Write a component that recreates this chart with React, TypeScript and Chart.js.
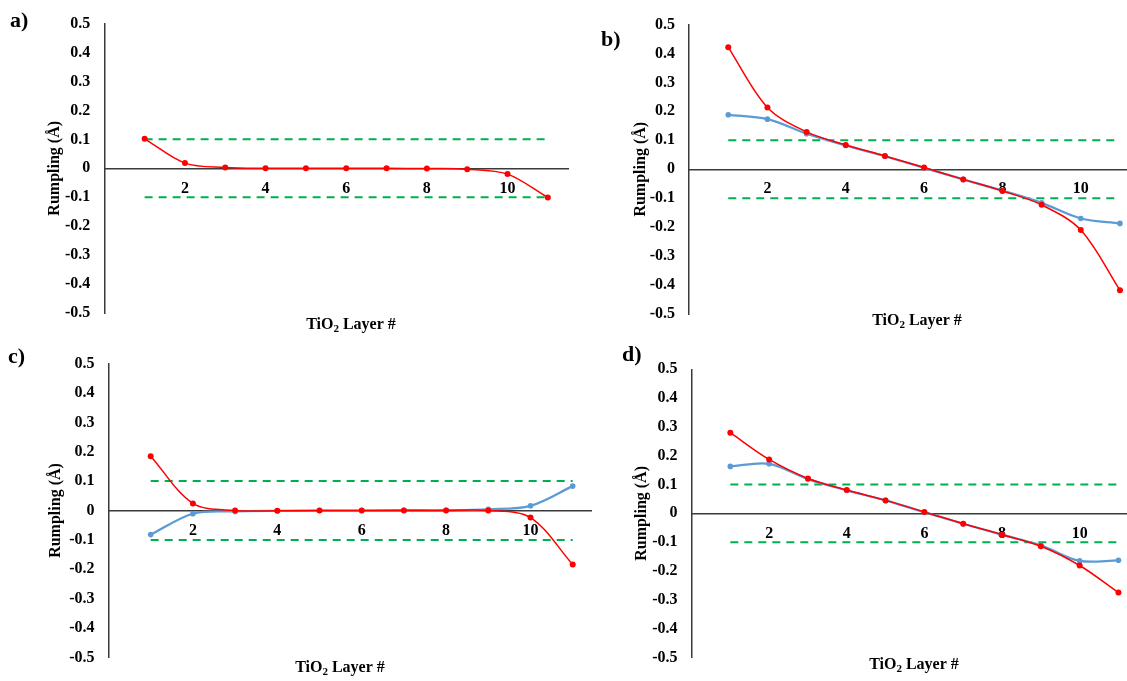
import React, { useEffect, useRef } from 'react';
import { Chart, registerables } from 'chart.js';

Chart.register(...registerables);

// TiO2 layer index along the slab
const LAYERS = [1, 2, 3, 4, 5, 6, 7, 8, 9, 10, 11];
const X_TICKS = [2, 4, 6, 8, 10];
const Y_TICKS = [-0.5, -0.4, -0.3, -0.2, -0.1, 0, 0.1, 0.2, 0.3, 0.4, 0.5];
// ±0.1 Å reference band
const LIMITS = [0.1, -0.1];

// Rumpling (Å) per layer
const A_RED = [0.102, 0.018, 0.003, 0.0, 0.0, 0.0, 0.0, -0.001, -0.003, -0.02, -0.101];

const B_RED = [0.421, 0.213, 0.129, 0.084, 0.046, 0.006, -0.035, -0.075, -0.123, -0.21, -0.418];
const B_BLUE = [0.188, 0.173, 0.123, 0.082, 0.045, 0.005, -0.035, -0.074, -0.116, -0.17, -0.187];

const C_RED = [0.185, 0.024, 0.0, -0.001, 0.0, 0.0, 0.0, 0.0, 0.0, -0.024, -0.184];
const C_BLUE = [-0.082, -0.011, -0.003, -0.001, 0.0, 0.0, 0.001, 0.001, 0.004, 0.016, 0.083];

const D_RED = [0.28, 0.187, 0.121, 0.081, 0.045, 0.005, -0.036, -0.074, -0.114, -0.181, -0.275];
const D_BLUE = [0.163, 0.172, 0.119, 0.08, 0.045, 0.004, -0.036, -0.074, -0.111, -0.165, -0.163];

const Y_TITLE = 'Rumpling (Å)';
const X_TITLE_PARTS = ['TiO', '2', ' Layer #'];

const FONT = '"Liberation Serif", "Times New Roman", serif';
const RED = '#ff0000';
const BLUE = '#5b9bd5';
const GREEN = '#00b050';
const AXIS = '#3a3a3a';

type PanelCfg = {
  label: string;
  red: number[];
  blue: number[] | null;
  box: { left: number; top: number; width: number; height: number };
  area: { left: number; right: number; top: number; bottom: number };
  xMax: number;
  axisLeft: number;
  labelPos: [number, number];
  titlePos: [number, number];
};

const PANELS: PanelCfg[] = [
  {
    label: 'a)', red: A_RED, blue: null,
    box: { left: 0, top: 0, width: 580, height: 340 },
    area: { left: 104.3, right: 568, top: 14, bottom: 313 },
    xMax: 11.5, axisLeft: 41.5, labelPos: [10, 21], titlePos: [351, 325],
  },
  {
    label: 'b)', red: B_RED, blue: B_BLUE,
    box: { left: 580, top: 0, width: 547, height: 340 },
    area: { left: 109.1, right: 547, top: 24.5, bottom: 314 },
    xMax: 11.18, axisLeft: 47.2, labelPos: [21, 40], titlePos: [337, 321],
  },
  {
    label: 'c)', red: C_RED, blue: C_BLUE,
    box: { left: 0, top: 340, width: 600, height: 341 },
    area: { left: 108.5, right: 591.7, top: 12.7, bottom: 325 },
    xMax: 11.45, axisLeft: 42.5, labelPos: [8, 17], titlePos: [340, 328],
  },
  {
    label: 'd)', red: D_RED, blue: D_BLUE,
    box: { left: 580, top: 340, width: 547, height: 341 },
    area: { left: 111.5, right: 547, top: 29.3, bottom: 318.3 },
    xMax: 11.22, axisLeft: 48.2, labelPos: [42, 15], titlePos: [334, 325],
  },
];

const toPoints = (ys: number[]) => LAYERS.map((x, i) => ({ x, y: ys[i] }));
const bandLine = (v: number) => [
  { x: LAYERS[0], y: v },
  { x: LAYERS[LAYERS.length - 1], y: v },
];

function makeTextPlugin(cfg: PanelCfg) {
  return {
    id: 'panelText',
    afterDraw(chart: Chart) {
      const ctx = chart.ctx;
      ctx.save();
      ctx.fillStyle = '#000';
      ctx.textBaseline = 'middle';
      ctx.textAlign = 'left';

      // panel letter
      ctx.font = `bold 22px ${FONT}`;
      ctx.fillText(cfg.label, cfg.labelPos[0], cfg.labelPos[1]);

      // x-axis title with subscript
      const big = `bold 16px ${FONT}`;
      const small = `bold 11px ${FONT}`;
      ctx.font = big;
      const w0 = ctx.measureText(X_TITLE_PARTS[0]).width;
      const w2 = ctx.measureText(X_TITLE_PARTS[2]).width;
      ctx.font = small;
      const w1 = ctx.measureText(X_TITLE_PARTS[1]).width;
      const total = w0 + w1 + w2;
      let x = cfg.titlePos[0] - total / 2;
      const y = cfg.titlePos[1];
      ctx.font = big;
      ctx.fillText(X_TITLE_PARTS[0], x, y);
      x += w0;
      ctx.font = small;
      ctx.fillText(X_TITLE_PARTS[1], x, y + 4);
      x += w1;
      ctx.font = big;
      ctx.fillText(X_TITLE_PARTS[2], x, y);
      ctx.restore();
    },
  };
}

function Panel({ cfg }: { cfg: PanelCfg }) {
  const ref = useRef<HTMLCanvasElement>(null);

  useEffect(() => {
    const canvas = ref.current;
    if (!canvas) return;

    const datasets: any[] = [
      {
        label: 'red',
        data: toPoints(cfg.red),
        borderColor: RED,
        backgroundColor: RED,
        borderWidth: 1.5,
        pointRadius: 3,
        pointBorderWidth: 0,
        pointBackgroundColor: RED,
        tension: 0.33,
      },
    ];
    if (cfg.blue) {
      datasets.push({
        label: 'blue',
        data: toPoints(cfg.blue),
        borderColor: BLUE,
        backgroundColor: BLUE,
        borderWidth: 2.25,
        pointRadius: 2.8,
        pointBorderWidth: 0,
        pointBackgroundColor: BLUE,
        tension: 0.33,
      });
    }
    LIMITS.forEach((v) => {
      datasets.push({
        label: `limit ${v}`,
        data: bandLine(v),
        borderColor: GREEN,
        borderWidth: 2,
        borderDash: [8, 6],
        pointRadius: 0,
        tension: 0,
      });
    });

    const tickFont = { family: FONT, size: 16, weight: 'bold' as const };

    const chart = new Chart(canvas, {
      type: 'line',
      data: { datasets },
      options: {
        animation: false,
        responsive: false,
        devicePixelRatio: 1,
        events: [],
        layout: {
          autoPadding: false,
          padding: {
            left: cfg.axisLeft,
            top: cfg.area.top,
            right: cfg.box.width - cfg.area.right,
            bottom: cfg.box.height - cfg.area.bottom,
          },
        },
        plugins: {
          legend: { display: false },
          tooltip: { enabled: false },
        },
        scales: {
          x: {
            type: 'linear',
            min: 0,
            max: cfg.xMax,
            position: { y: 0 } as any,
            afterBuildTicks: (s: any) => {
              s.ticks = X_TICKS.map((value) => ({ value }));
            },
            grid: { display: false, drawTicks: false },
            border: { display: true, color: AXIS, width: 1.5 },
            ticks: {
              padding: 10.5,
              color: '#000',
              font: tickFont,
              autoSkip: false,
              maxRotation: 0,
              callback: (v: any) => String(v),
            },
          },
          y: {
            type: 'linear',
            position: 'left',
            min: -0.5,
            max: 0.5,
            afterBuildTicks: (s: any) => {
              s.ticks = Y_TICKS.map((value) => ({ value }));
            },
            afterFit: (s: any) => {
              s.width = cfg.area.left - cfg.axisLeft;
            },
            grid: { display: false, drawTicks: false },
            border: { display: true, color: AXIS, width: 1.5 },
            ticks: {
              padding: 14,
              color: '#000',
              font: tickFont,
              autoSkip: false,
              callback: (v: any) => (Number(v) === 0 ? '0' : Number(v).toFixed(1)),
            },
            title: {
              display: true,
              text: Y_TITLE,
              color: '#000',
              font: tickFont,
              padding: { top: 4, bottom: 4 },
            },
          },
        },
      },
      plugins: [makeTextPlugin(cfg)],
    });

    return () => chart.destroy();
  }, [cfg]);

  return (
    <canvas
      ref={ref}
      width={cfg.box.width}
      height={cfg.box.height}
      style={{
        position: 'absolute',
        left: cfg.box.left,
        top: cfg.box.top,
        width: cfg.box.width,
        height: cfg.box.height,
      }}
    />
  );
}

export default function App() {
  return (
    <div
      style={{
        position: 'absolute',
        left: 0,
        top: 0,
        width: 1127,
        height: 681,
        background: '#fff',
        overflow: 'hidden',
      }}
    >
      {PANELS.map((p) => (
        <Panel key={p.label} cfg={p} />
      ))}
    </div>
  );
}
